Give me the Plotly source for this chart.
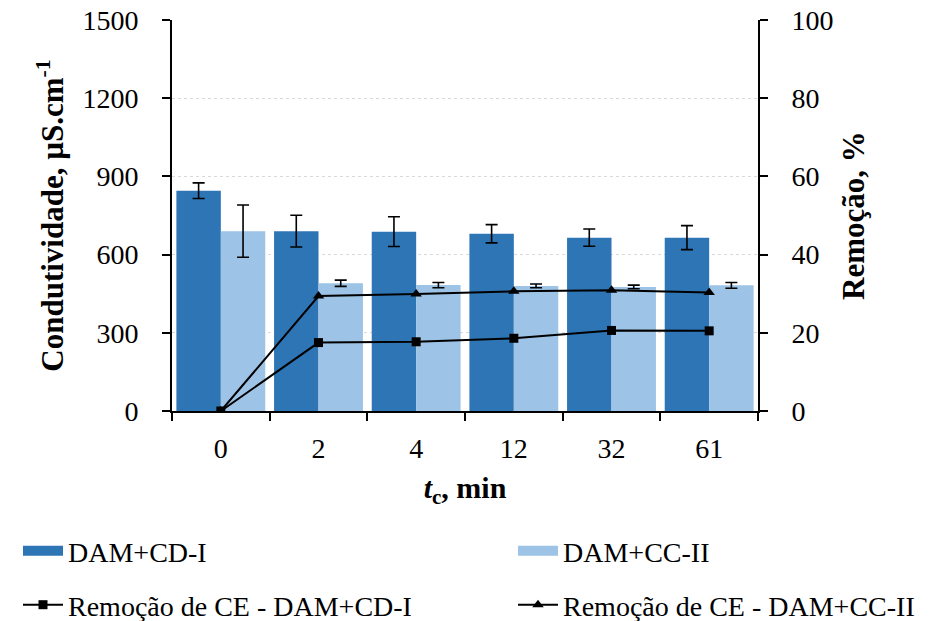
import plotly.graph_objects as go

categories = ["0", "2", "4", "12", "32", "61"]
cond_cd1 = [845, 690, 688, 680, 665, 665]
cond_cd1_err = [30, 61, 57, 35, 33, 46]
cond_cc2 = [690, 490, 483, 480, 476, 482]
cond_cc2_err = [100, 12, 10, 7, 7, 11]
rem_cd1 = [0, 17.5, 17.7, 18.6, 20.6, 20.5]
rem_cc2 = [0, 29.4, 29.9, 30.6, 30.9, 30.3]

FONT = "Times New Roman, Liberation Serif, serif"
DARK = "#2E75B6"
LIGHT = "#9DC3E6"
TICK_SIZE = 28
TITLE_SIZE = 31
LEG_SIZE = 28

fig = go.Figure()
fig.add_trace(go.Bar(
    x=categories, y=cond_cd1, name="DAM+CD-I", marker_color=DARK,
    marker_line_width=0, showlegend=False,
    error_y=dict(type="data", array=cond_cd1_err, color="black", thickness=1.6, width=6),
))
fig.add_trace(go.Bar(
    x=categories, y=cond_cc2, name="DAM+CC-II", marker_color=LIGHT,
    marker_line_width=0, showlegend=False,
    error_y=dict(type="data", array=cond_cc2_err, color="black", thickness=1.6, width=6),
))
# legend swatches for the bar series (wide rectangles like the original)
fig.add_trace(go.Scatter(
    x=[None], y=[None], name="DAM+CD-I", mode="lines",
    line=dict(color=DARK, width=18), legend="legend", hoverinfo="skip",
))
fig.add_trace(go.Scatter(
    x=[None], y=[None], name="DAM+CC-II", mode="lines",
    line=dict(color=LIGHT, width=18), legend="legend2", hoverinfo="skip",
))
fig.add_trace(go.Scatter(
    x=categories, y=rem_cd1, name="Remoção de CE - DAM+CD-I", yaxis="y2",
    mode="lines+markers", line=dict(color="black", width=2), legend="legend3",
    marker=dict(symbol="square", size=9, color="black"),
))
fig.add_trace(go.Scatter(
    x=categories, y=rem_cc2, name="Remoção de CE - DAM+CC-II", yaxis="y2",
    mode="lines+markers", line=dict(color="black", width=2), legend="legend4",
    marker=dict(symbol="triangle-up", size=10, color="black"),
))

leg_common = dict(
    orientation="h", xref="container", yref="container",
    xanchor="left", yanchor="middle",
    font=dict(family=FONT, size=LEG_SIZE, color="black"),
    itemwidth=40, bgcolor="rgba(0,0,0,0)",
)
X1 = 18 / 936
X2 = 513 / 936
Y1 = 1 - 551 / 621
Y2 = 1 - 605 / 621

fig.update_layout(
    width=936, height=621,
    margin=dict(l=172, r=178, t=20, b=210, autoexpand=False),
    paper_bgcolor="white", plot_bgcolor="white",
    font=dict(family=FONT, size=TICK_SIZE, color="black"),
    barmode="group", bargap=0.09, bargroupgap=0,
    showlegend=True,
    legend=dict(leg_common, x=X1, y=Y1),
    legend2=dict(leg_common, x=X2, y=Y1),
    legend3=dict(leg_common, x=X1, y=Y2),
    legend4=dict(leg_common, x=X2, y=Y2),
    xaxis=dict(
        type="category", showline=True, linecolor="black", linewidth=2,
        ticks="outside", tickson="boundaries", ticklen=8, tickwidth=2, tickcolor="black",
        tickfont=dict(family=FONT, size=TICK_SIZE), ticklabelstandoff=11,
        title=dict(text="<b><i>t</i><sub>c</sub>, min</b>", font=dict(family=FONT, size=30), standoff=14),
        showgrid=False, zeroline=False,
    ),
    yaxis=dict(
        range=[0, 1500], tickvals=[0, 300, 600, 900, 1200, 1500],
        showline=True, linecolor="black", linewidth=2,
        ticks="outside", ticklen=8, tickwidth=2, tickcolor="black",
        tickfont=dict(family=FONT, size=TICK_SIZE), ticklabelstandoff=18,
        showgrid=True, gridcolor="#D9D9D9", griddash="dot", gridwidth=1,
        zeroline=False,
        title=dict(text="<b>Condutividade, µS.cm<sup>-1</sup></b>", font=dict(family=FONT, size=TITLE_SIZE), standoff=10),
    ),
    yaxis2=dict(
        range=[0, 100], tickvals=[0, 20, 40, 60, 80, 100], overlaying="y", side="right",
        showline=True, linecolor="black", linewidth=2,
        ticks="outside", ticklen=8, tickwidth=2, tickcolor="black",
        tickfont=dict(family=FONT, size=TICK_SIZE), ticklabelstandoff=18,
        showgrid=False, zeroline=False,
        title=dict(text="<b>Remoção, %</b>", font=dict(family=FONT, size=TITLE_SIZE), standoff=10),
    ),
)

fig.write_html("out.html")
